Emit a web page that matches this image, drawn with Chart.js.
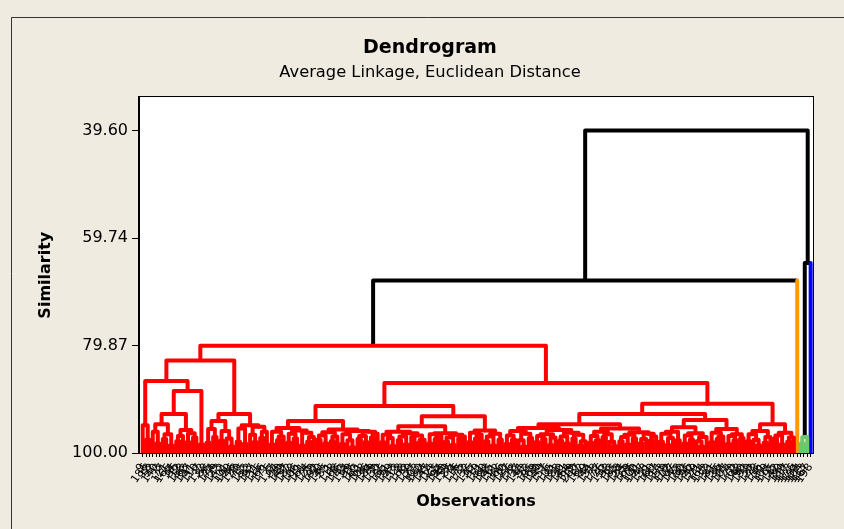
<!DOCTYPE html>
<html><head><meta charset="utf-8">
<script src="https://cdn.jsdelivr.net/npm/chart.js@4.4.1/dist/chart.umd.min.js"></script>
<style>html,body{margin:0;padding:0;background:#EFEBE1;}canvas{display:block;}</style>
</head><body>
<canvas id="c" width="844" height="529"></canvas>
<script>
// ---- tick labels ----
const yTicks = [39.60, 59.74, 79.87, 100.00];
// observation numbers in dendrogram (leaf) order, left to right
const obsLabels = [
 9,186,18,52,140,3,77,121,165,34,96,12,158,63,187,41,110,7,132,88,
 25,174,59,143,2,101,190,46,128,70,15,153,83,197,31,115,66,171,5,137,
 94,20,149,57,182,38,106,11,161,74,125,29,192,50,146,85,1,118,68,176,
 43,134,99,16,163,61,108,36,184,79,130,22,155,91,199,48,113,8,168,72,
 139,27,103,180,54,147,14,123,65,194,40,159,86,4,116,75,172,32,135,97,
 19,151,60,188,45,111,82,166,10,127,56,178,37,144,92,23,195,69,120,49,
 157,6,105,81,183,30,141,64,119,200,17,162,89,44,131,73,177,26,152,98,
 13,185,58,124,35,169,76,100,191,47,138,21,160,87,114,53,179,102,67,145,
 28,150,93,196,42,129,71,164,112,33,181,55,136,84,107,24,170,62,148,90,
 193,39,122,78,156,51,109,175,95,142,80,189,117,173,126,154,104,133,167,198
];

// ---- merge structure: [left, right, similarity]; numbers are leaf positions ----
const LLa = [0,[1,2,97.5],94.8];
const A1  = [[3,[4,5,98.2],96.0],[[6,7,97.4],[8,9,98.6],96.5],94.6];
const A2  = [[[10,11,97.8],12,96.8],[[13,14,98.0],[15,16,97.1],96.3],95.7];
const LLb = [[A1,A2,92.7],[17,18,98.4],88.4];
const LL  = [LLa,LLb,86.5];

const B1 = [[[19,20,98.1],[21,22,97.0],95.5],[[23,24,97.7],[25,[26,27,98.8],97.3],95.9],94.0];
const B2 = [[[28,29,97.9],[30,31,98.3],95.4],[[32,[33,34,98.0],96.6],[[35,36,97.2],37,96.0],95.1],94.8];
const LR = [B1,B2,92.7];
const L  = [LL,LR,82.7];

const C1a = [[38,39,98.4],[[40,41,97.6],42,96.9],96.0];
const C1b = [[[43,44,98.1],[45,46,97.3],96.4],[[47,48,98.6],[[49,50,97.9],51,97.0],96.2],95.8];
const C2a = [[[52,53,97.5],[54,55,98.2],96.7],[[56,57,97.8],58,96.9],96.1];
const C2b = [[[59,60,98.3],[61,[62,63,98.9],97.6],96.5],[[[64,65,97.4],[66,67,98.0],96.8],[[68,69,97.1],70,96.4],96.0],95.9];
const RLL = [[C1a,C1b,95.3],[C2a,C2b,95.6],94.0];

const D1 = [[[71,72,98.0],[73,[74,75,98.7],97.2],96.6],[[[76,77,97.6],[78,79,98.4],96.9],[[80,81,97.0],[[82,83,98.1],84,97.5],96.7],96.3],96.0];
const D2 = [[[85,86,98.2],[[87,88,97.4],89,96.8],96.5],[[[90,91,97.9],[92,93,98.5],97.1],[[94,95,97.3],96,96.9],96.6],96.3];
const D3 = [[[97,98,98.0],[[99,100,97.3],101,96.6],96.2],[[[102,103,97.8],[104,105,98.6],96.9],[106,107,97.5],96.4],95.8];
const RLR = [[D1,D2,95.0],D3,93.1];
const RL  = [RLL,RLR,91.2];

const E1a = [[[108,109,98.3],[110,111,97.5],96.7],[[112,[113,114,98.8],97.6],[115,116,97.2],96.4],95.9];
const E1b = [[[[117,118,98.0],[119,120,97.4],96.8],[[121,122,98.5],123,97.1],96.5],[[[124,125,97.7],[126,127,98.2],96.9],[[128,129,97.3],[[130,131,98.6],132,97.8],96.6],96.2],95.7];
const E2a = [[[133,134,98.1],[135,136,97.6],96.8],[[137,138,97.0],[139,[140,141,98.7],97.9],96.5],96.0];
const E2b = [[[[142,143,97.8],[144,145,98.4],97.0],[146,147,97.3],96.6],[[[148,149,98.2],150,97.4],[[151,152,97.7],153,96.9],96.4],96.1];
const RRLleft = [[E1a,E1b,95.3],[E2a,E2b,95.4],94.6];

const F1a = [[[154,155,97.9],[[156,157,98.5],158,97.2],96.4],[159,160,97.6],96.0];
const F1b = [[[161,162,98.2],[163,164,97.5],96.7],[[165,[166,167,98.8],97.8],168,97.0],96.3];
const F2  = [[[169,170,98.0],[[171,172,97.4],173,96.9],96.2],[[[174,175,98.3],[176,177,97.6],96.8],[178,179,97.2],96.5],95.5];
const RRLright = [[F1a,F1b,95.2],F2,93.8];
const RRL = [RRLleft,RRLright,92.7];

const G1 = [[[180,181,97.8],[182,[183,184,98.6],97.5],96.5],[[185,186,98.1],187,97.0],95.9];
const G2 = [[[188,189,97.3],[190,191,98.4],96.7],[[192,193,97.9],194,97.1],96.2];
const RRR = [G1,G2,94.6];
const RR  = [RRL,RRR,90.8];
const R   = [RL,RR,86.9];

const redTree   = [L,R,79.9];
const greenTree = [[196,197,98.2],198,97.0];

// final clusters (a number = single observation cluster)
const clusterTrees  = [redTree, 195, greenTree, 199];
const clusterColors = ['#FF0000', '#FF9900', '#6CC86C', '#0000FF'];
// joins between clusters: ids 0-3 are clusters above, 4+ are earlier joins
const topJoins = [[0,1,67.7],[2,3,64.4],[4,5,39.60]];

// ---- build link polylines ----
function nx(n){ return Array.isArray(n) ? (nx(n[0]) + nx(n[1])) / 2 : n; }
function nh(n){ return Array.isArray(n) ? n[2] : 100; }
const links = [];
function walk(n, col){
  if (!Array.isArray(n)) return;
  const a = n[0], b = n[1], h = n[2];
  links.push({pts:[{x:nx(a),y:nh(a)},{x:nx(a),y:h},{x:nx(b),y:h},{x:nx(b),y:nh(b)}], cols:[col,col,col]});
  walk(a, col); walk(b, col);
}
clusterTrees.forEach((t, i) => walk(t, clusterColors[i]));
const nodes = clusterTrees.map((t, i) => ({t, leafCol: Array.isArray(t) ? null : clusterColors[i]}));
topJoins.forEach(j => {
  const A = nodes[j[0]], B = nodes[j[1]];
  const t = [A.t, B.t, j[2]];
  links.push({pts:[{x:nx(A.t),y:nh(A.t)},{x:nx(A.t),y:j[2]},{x:nx(B.t),y:j[2]},{x:nx(B.t),y:nh(B.t)}],
              cols:[A.leafCol || '#000', '#000', B.leafCol || '#000']});
  nodes.push({t, leafCol:null});
});

const datasets = links.map(l => {
  const cols = l.cols;
  return {
    data: l.pts, showLine: true, pointRadius: 0, pointHoverRadius: 0,
    borderWidth: 4, borderColor: cols[1], borderJoinStyle: 'round', borderCapStyle: 'butt',
    segment: { borderColor: c => cols[c.p0DataIndex] }
  };
});

const FONT = 'DejaVu Sans';
const framePlugin = {
  id: 'frame',
  beforeDraw(chart){
    const {ctx, chartArea:a} = chart;
    ctx.save();
    ctx.fillStyle = '#EFEBE1';
    ctx.fillRect(0, 0, chart.width, chart.height);
    ctx.strokeStyle = '#333'; ctx.lineWidth = 1;
    ctx.beginPath(); ctx.moveTo(11.5, chart.height); ctx.lineTo(11.5, 17.5); ctx.lineTo(chart.width, 17.5); ctx.stroke();
    ctx.fillStyle = '#FFFFFF';
    ctx.fillRect(a.left, a.top, a.right - a.left, a.bottom - a.top);
    ctx.restore();
  },
  afterDraw(chart){
    const {ctx, chartArea:a} = chart;
    ctx.save();
    ctx.strokeStyle = '#000'; ctx.lineWidth = 1;
    ctx.strokeRect(Math.round(a.left) - 0.5, Math.round(a.top) - 0.5, Math.round(a.right - a.left) + 1, Math.round(a.bottom - a.top) + 1);
    ctx.restore();
  }
};

new Chart(document.getElementById('c'), {
  type: 'scatter',
  data: { datasets },
  plugins: [framePlugin],
  options: {
    responsive: false, animation: false,
    layout: { padding: { top: 0, right: 0, bottom: 0, left: 16 } },
    plugins: {
      legend: { display: false }, tooltip: { enabled: false },
      title: { display: true, text: 'Dendrogram', color: '#000',
               font: { family: FONT, size: 19, weight: 'bold' }, padding: { top: 37, bottom: 3 } },
      subtitle: { display: true, text: 'Average Linkage, Euclidean Distance', color: '#000',
               font: { family: FONT, size: 16.3 }, padding: { top: 0, bottom: 15 } }
    },
    scales: {
      x: {
        type: 'linear', min: -1.1, max: 199.7,
        afterBuildTicks: s => { s.ticks = obsLabels.map((_, i) => ({ value: i })); },
        afterFit: s => { s.height = 76; },
        ticks: { autoSkip: false, minRotation: 55, maxRotation: 55, padding: 4, color: '#000',
                 font: { family: FONT, size: 11 }, callback: v => String(obsLabels[v]) },
        grid: { drawOnChartArea: false, drawTicks: true, tickLength: 4, color: '#000' },
        border: { display: true, color: '#000' },
        title: { display: true, text: 'Observations', color: '#000',
                 font: { family: FONT, size: 16, weight: 'bold' }, padding: { top: 18, bottom: 18 } }
      },
      y: {
        type: 'linear', reverse: true, min: 33.4, max: 100,
        afterBuildTicks: s => { s.ticks = yTicks.map(v => ({ value: v })); },
        afterFit: s => { s.width = 123; },
        ticks: { padding: 4, color: '#000', font: { family: FONT, size: 16 }, callback: v => Number(v).toFixed(2) },
        grid: { drawOnChartArea: false, drawTicks: true, tickLength: 7, color: '#000' },
        border: { display: true, color: '#000' },
        title: { display: true, text: 'Similarity', color: '#000',
                 font: { family: FONT, size: 16, weight: 'bold' }, padding: { top: 20, bottom: 20 } }
      },
      yRight: {
        type: 'linear', position: 'right', display: true,
        afterFit: s => { s.width = 31; },
        ticks: { display: false }, grid: { display: false, drawTicks: false }, border: { display: false }
      }
    }
  }
});
</script>
</body></html>
